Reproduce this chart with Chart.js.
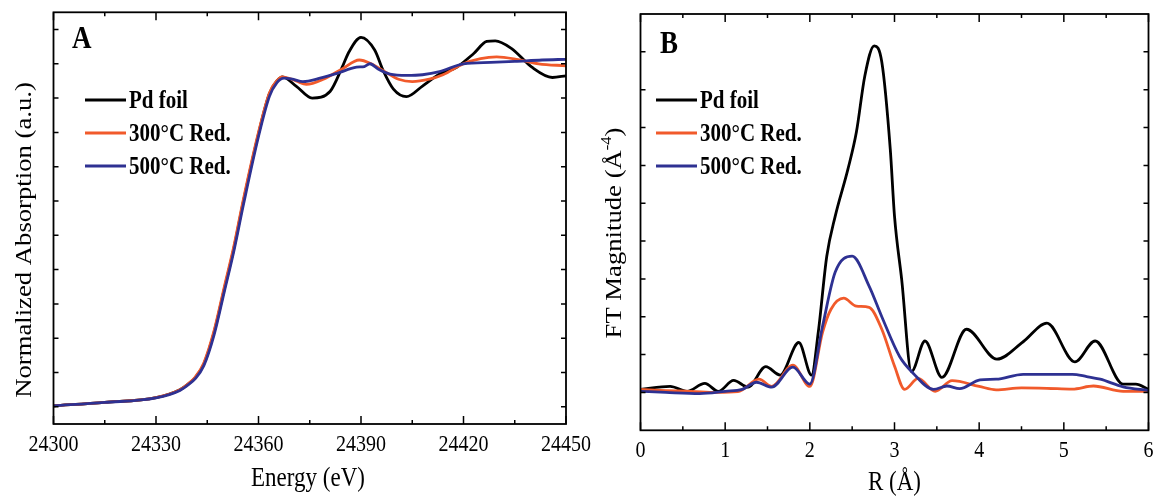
<!DOCTYPE html>
<html>
<head>
<meta charset="utf-8">
<script src="https://cdn.jsdelivr.net/npm/chart.js@4.4.1/dist/chart.umd.min.js"></script>
<style>
    html, body { margin: 0; background: #fff; }
    #wrap { position: relative; width: 1154px; height: 496px; overflow: hidden; }
    canvas { position: absolute; top: 0; }
</style>
</head>
<body>
<div id="wrap">
    <canvas id="xanes" width="600" height="496" style="left:0"></canvas>
    <canvas id="ft" width="574" height="496" style="left:580px"></canvas>
</div>
<script>
// ---- Panel A: XANES (energy in eV, normalized absorption) ----
const foilE = [24300, 24315, 24330, 24337, 24339.5, 24341.5, 24344, 24347, 24350, 24352.7, 24355.6, 24360, 24363.2, 24365.4, 24367,
    24371, 24375.7, 24381, 24384.5, 24386.5, 24390, 24394, 24396.5, 24399.5, 24403.3, 24408, 24413, 24418, 24423, 24426.8, 24429.3, 24434, 24440, 24446, 24450];
const foilMu = [0.003, 0.013, 0.027, 0.05, 0.067, 0.085, 0.125, 0.217, 0.344, 0.458, 0.60, 0.796, 0.913, 0.95, 0.962,
    0.935, 0.90, 0.92, 0.99, 1.035, 1.077, 1.04, 0.98, 0.926, 0.904, 0.935, 0.97, 0.99, 1.03, 1.065, 1.067, 1.045, 0.99, 0.96, 0.965];

const red300E = [24300, 24315, 24330, 24337, 24339.5, 24341.5, 24344, 24347, 24350, 24352.7, 24355.6, 24360, 24363.2, 24365.4, 24367,
    24371, 24374, 24379, 24384.5, 24389.5, 24393, 24396.5, 24401, 24405, 24410, 24414, 24420, 24425, 24429.7, 24436, 24442, 24450];
const red300Mu = [0.003, 0.013, 0.027, 0.05, 0.068, 0.087, 0.128, 0.222, 0.35, 0.464, 0.606, 0.80, 0.915, 0.951, 0.962,
    0.95, 0.94, 0.955, 0.985, 1.011, 1.0, 0.98, 0.955, 0.948, 0.955, 0.968, 1.0, 1.015, 1.02, 1.012, 1.0, 0.994];

const red500E = [24300, 24315, 24330, 24337, 24339.5, 24341.5, 24344, 24347, 24350, 24352.7, 24355.6, 24360, 24363.2, 24365.4, 24367.5,
    24370, 24373, 24378, 24383, 24388.7, 24391, 24392.6, 24395, 24398.5, 24403.4, 24408, 24413, 24420, 24428, 24435, 24443, 24450];
const red500Mu = [0.003, 0.013, 0.026, 0.048, 0.065, 0.082, 0.12, 0.21, 0.336, 0.45, 0.59, 0.788, 0.905, 0.945, 0.958,
    0.955, 0.948, 0.958, 0.972, 0.99, 0.992, 1.0, 0.985, 0.97, 0.966, 0.968, 0.977, 1.0, 1.004, 1.007, 1.011, 1.013];

const xanesXTicks = [24300, 24330, 24360, 24390, 24420, 24450];
const xanesYTicks = [0, 0.1, 0.2, 0.3, 0.4, 0.5, 0.6, 0.7, 0.8, 0.9, 1.0, 1.1];

// ---- Panel B: Fourier transform magnitude vs R ----
const foilR = [0, 0.35, 0.55, 0.76, 0.92, 1.1, 1.27, 1.48, 1.65, 1.87, 2.02, 2.1, 2.2, 2.3, 2.45, 2.55, 2.65, 2.76, 2.85, 2.95, 3.0,
    3.085, 3.2, 3.36, 3.56, 3.85, 4.21, 4.52, 4.8, 5.13, 5.37, 5.7, 5.85, 6.0];
const foilFT = [1.08, 1.16, 1.03, 1.24, 1.03, 1.32, 1.14, 1.68, 1.46, 2.32, 1.46, 2.6, 4.6, 5.66, 6.9, 7.88, 9.37, 10.16, 9.73, 7.43, 5.66,
    3.98, 1.55, 2.36, 1.40, 2.67, 1.88, 2.34, 2.83, 1.81, 2.36, 1.22, 1.22, 1.08];

const red300R = [0, 0.3, 0.6, 0.9, 1.15, 1.4, 1.55, 1.8, 2.0, 2.15, 2.25, 2.4, 2.55, 2.7, 2.85, 3.0, 3.12, 3.28, 3.48, 3.68, 4.0, 4.2,
    4.5, 4.8, 5.1, 5.35, 5.7, 6.0];
const red300FT = [1.08, 1.05, 1.03, 1.0, 1.02, 1.35, 1.16, 1.72, 1.16, 2.59, 3.2, 3.49, 3.28, 3.25, 2.67, 1.7, 1.08, 1.37, 1.03, 1.31, 1.16, 1.07,
    1.12, 1.11, 1.09, 1.17, 1.03, 1.03];

const red500R = [0, 0.3, 0.7, 1.0, 1.2, 1.37, 1.55, 1.8, 2.0, 2.15, 2.3, 2.5, 2.7, 2.85, 3.06, 3.22, 3.46, 3.62, 3.77, 4.01, 4.2, 4.52,
    5.1, 5.27, 5.43, 5.7, 6.0];
const red500FT = [1.03, 1.0, 0.97, 1.03, 1.08, 1.27, 1.14, 1.67, 1.22, 2.75, 4.18, 4.6, 3.81, 3.0, 1.95, 1.51, 1.08, 1.17, 1.1, 1.33, 1.35, 1.48,
    1.48, 1.42, 1.35, 1.15, 1.05];

const ftXTicks = [0, 1, 2, 3, 4, 5, 6];
const ftYTicks = [1, 2, 3, 4, 5, 6, 7, 8, 9, 10];

const seriesNames = ['Pd foil', '300°C Red.', '500°C Red.'];
const seriesColors = ['#000000', '#f15a2b', '#2e3192'];

const SERIF = '"Liberation Serif", "Times New Roman", serif';
const SY = 1.16;  // the figure is slightly stretched vertically

function toPoints(xs, ys) {
    return xs.map((x, i) => ({ x: x, y: ys[i] }));
}

// draws a list of text runs, each run may be a superscript
function drawRich(ctx, runs, x, y, size, weight, align, rotated) {
    ctx.save();
    ctx.translate(x, y);
    ctx.scale(1, SY);
    if (rotated) ctx.rotate(-Math.PI / 2);
    let total = 0;
    runs.forEach(r => {
        ctx.font = weight + ' ' + (r.sup ? size * 0.62 : size) + 'px ' + SERIF;
        total += ctx.measureText(r.t).width;
    });
    let cx = align === 'center' ? -total / 2 : (align === 'right' ? -total : 0);
    ctx.fillStyle = '#000';
    ctx.textBaseline = 'alphabetic';
    ctx.textAlign = 'left';
    runs.forEach(r => {
        ctx.font = weight + ' ' + (r.sup ? size * 0.62 : size) + 'px ' + SERIF;
        ctx.fillText(r.t, cx, r.sup ? -size * 0.42 : 0);
        cx += ctx.measureText(r.t).width;
    });
    ctx.restore();
}

const decoPlugin = {
    id: 'deco',
    afterDraw(chart) {
        const d = chart.options.plugins.deco;
        const ctx = chart.ctx, a = chart.chartArea;
        const xs = chart.scales.x, ys = chart.scales.y;
        ctx.save();
        ctx.strokeStyle = '#000';
        ctx.lineWidth = 1.8;
        ctx.strokeRect(a.left, a.top, a.right - a.left, a.bottom - a.top);

        // x ticks, major and the minor half-way ones, pointing inward top and bottom
        ctx.lineWidth = 1.5;
        ctx.beginPath();
        const xt = d.xTicks;
        for (let i = 0; i < xt.length; i++) {
            const px = xs.getPixelForValue(xt[i]);
            ctx.moveTo(px, a.bottom); ctx.lineTo(px, a.bottom - 8);
            ctx.moveTo(px, a.top); ctx.lineTo(px, a.top + 8);
            if (i < xt.length - 1) {
                const pm = xs.getPixelForValue((xt[i] + xt[i + 1]) / 2);
                ctx.moveTo(pm, a.bottom); ctx.lineTo(pm, a.bottom - 4);
                ctx.moveTo(pm, a.top); ctx.lineTo(pm, a.top + 4);
            }
        }
        d.yTicks.forEach(v => {
            const py = ys.getPixelForValue(v);
            ctx.moveTo(a.left, py); ctx.lineTo(a.left + 5, py);
            ctx.moveTo(a.right, py); ctx.lineTo(a.right - 5, py);
        });
        ctx.stroke();

        // tick labels
        xt.forEach(v => {
            drawRich(ctx, [{ t: String(v) }], xs.getPixelForValue(v), d.labelBase, 20, 'normal', 'center', false);
        });

        // axis titles
        drawRich(ctx, d.xTitle, d.xTitlePos[0], d.xTitlePos[1], 23, 'normal', 'center', false);
        drawRich(ctx, d.yTitle, d.yTitlePos[0], d.yTitlePos[1], 23, 'normal', 'center', true);

        // panel letter
        drawRich(ctx, [{ t: d.letter }], d.letterPos[0], d.letterPos[1], 27, 'bold', 'left', false);

        // legend inside the plot
        chart.data.datasets.forEach((ds, i) => {
            const ly = d.legend[1] + i * 33;
            ctx.strokeStyle = ds.borderColor;
            ctx.lineWidth = 3;
            ctx.beginPath();
            ctx.moveTo(d.legend[0], ly);
            ctx.lineTo(d.legend[0] + 41, ly);
            ctx.stroke();
            drawRich(ctx, [{ t: ds.label }], d.legend[0] + 44, ly + 8, 21, 'bold', 'left', false);
        });
        ctx.restore();
    }
};

function makeDatasets(sets) {
    return sets.map((pts, i) => ({
        label: seriesNames[i],
        data: pts,
        borderColor: seriesColors[i],
        borderWidth: 2.8,
        pointRadius: 0,
        fill: false,
        cubicInterpolationMode: 'monotone',
        order: 3 - i
    }));
}

function makeChart(id, sets, xr, yr, padding, deco) {
    return new Chart(document.getElementById(id).getContext('2d'), {
        type: 'line',
        data: { datasets: makeDatasets(sets) },
        options: {
            responsive: false,
            animation: false,
            devicePixelRatio: 1,
            layout: { padding: padding },
            scales: {
                x: { type: 'linear', min: xr[0], max: xr[1], display: false },
                y: { type: 'linear', min: yr[0], max: yr[1], display: false }
            },
            plugins: {
                legend: { display: false },
                tooltip: { enabled: false },
                deco: deco
            }
        },
        plugins: [decoPlugin]
    });
}

makeChart('xanes',
    [toPoints(foilE, foilMu), toPoints(red300E, red300Mu), toPoints(red500E, red500Mu)],
    [24300, 24450], [-0.05, 1.15],
    { left: 53.5, right: 34, top: 12.3, bottom: 72 },
    {
        xTicks: xanesXTicks, yTicks: xanesYTicks, labelBase: 450.5,
        xTitle: [{ t: 'Energy (eV)' }], xTitlePos: [308, 486],
        yTitle: [{ t: 'Normalized Absorption (a.u.)' }], yTitlePos: [30.5, 240],
        letter: 'A', letterPos: [72, 48],
        legend: [85, 100]
    });

makeChart('ft',
    [toPoints(foilR, foilFT), toPoints(red300R, red300FT), toPoints(red500R, red500FT)],
    [0, 6], [0, 11],
    { left: 60.5, right: 5.5, top: 14, bottom: 65.7 },
    {
        xTicks: ftXTicks, yTicks: ftYTicks, labelBase: 456.5,
        xTitle: [{ t: 'R (Å)' }], xTitlePos: [314.5, 490],
        yTitle: [{ t: 'FT Magnitude (Å' }, { t: '-4', sup: true }, { t: ')' }], yTitlePos: [41, 233],
        letter: 'B', letterPos: [80, 53],
        legend: [76, 100]
    });
</script>
</body>
</html>
